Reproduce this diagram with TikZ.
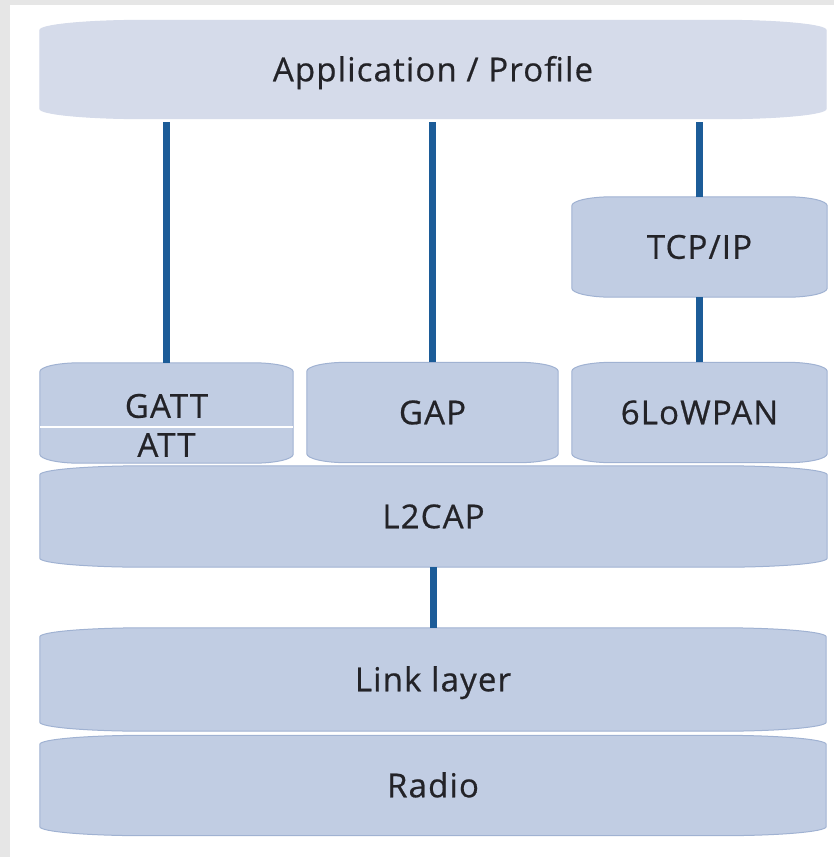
\documentclass[tikz,border=0pt]{standalone}
\usepackage{fontspec}
\setmainfont{Open Sans}
\newfontfamily\stackfont[LetterSpace=3.5, FakeBold=0.6]{Open Sans}
\usetikzlibrary{calc}
\pgfdeclarelayer{frame}
\pgfdeclarelayer{background}
\pgfsetlayers{frame,background,main}

\definecolor{pagegray}{RGB}{230,230,230}
\definecolor{boxfill}{RGB}{193,205,227}
\definecolor{topfill}{RGB}{213,219,234}
\definecolor{boxedge}{RGB}{160,178,210}
\definecolor{linkblue}{RGB}{28,92,152}
\definecolor{txt}{RGB}{35,35,40}

\tikzset{
  x=1pt, y=1pt,
  layer/.style={rectangle, draw=none, fill=none, inner sep=0pt,
    text=txt, font=\stackfont\fontsize{33}{40}\selectfont,
    text height=23.5pt, text depth=0pt},
  shell/.style={fill=boxfill, draw=boxedge, line width=1pt},
  conn/.style={draw=linkblue, line width=6.5pt},
}

% cushion outline around a named node: #1 node, #2 corner x radius, #3 corner y radius, #4 extra style
\newcommand{\cushion}[4]{%
  \path[shell,#4]
    ([yshift=-#3]#1.north west)
      arc[start angle=180, end angle=90, x radius=#2, y radius=#3]
    -- ([xshift=-#2]#1.north east)
      arc[start angle=90, end angle=0, x radius=#2, y radius=#3]
    -- ([yshift=#3]#1.south east)
      arc[start angle=0, end angle=-90, x radius=#2, y radius=#3]
    -- ([xshift=#2]#1.south west)
      arc[start angle=270, end angle=180, x radius=#2, y radius=#3]
    -- cycle;}

\begin{document}
\begin{tikzpicture}
\useasboundingbox (0,0) rectangle (834,-857);

% layers of the stack
\node[layer, minimum width=786, minimum height=98]  (app)    at (433,-69.5)  {Application / Profile};
\node[layer, minimum width=255, minimum height=100] (tcp)    at (699.5,-247) {TCP/IP};
\node[layer, minimum width=253, minimum height=100] (gatt)   at (166.5,-413) {};
\node[layer] (gattlbl) at (166.5,-406) {GATT};
\node[layer] (attlbl)  at (166.5,-445) {ATT};
\node[layer, minimum width=251, minimum height=100] (gap)    at (432.5,-412.5) {GAP};
\node[layer, minimum width=255, minimum height=100] (lowpan) at (699.5,-412.5) {6LoWPAN};
\node[layer, minimum width=787, minimum height=101] (l2cap)  at (433.5,-516.5) {L2CAP};
\node[layer, minimum width=786, minimum height=103] (link)   at (433,-679.5) {Link layer};
\node[layer, minimum width=786, minimum height=100] (radio)  at (433,-785.5) {Radio};

% page frame
\begin{pgfonlayer}{frame}
  \fill[pagegray] (0,0) rectangle (834,-857);
  \fill[white] (10,-5) rectangle (834,-857);
\end{pgfonlayer}

\begin{pgfonlayer}{background}
  \cushion{app}{105}{10}{fill=topfill, draw=topfill}
  \cushion{tcp}{40}{9}{}
  \cushion{gatt}{40}{9}{}
  \cushion{gap}{40}{9}{}
  \cushion{lowpan}{40}{9}{}
  \cushion{l2cap}{105}{9}{}
  \cushion{link}{105}{9}{}
  \cushion{radio}{105}{9}{}
  % split between GATT and ATT
  \draw[white, line width=2.5pt] ($(gatt.west)+(0.5,-14)$) -- ($(gatt.east)+(-0.5,-14)$);
  % connectors
  \draw[conn] (gatt.north) -- ([yshift=-3]gatt.north |- app.south);
  \draw[conn] (gap.north) -- ([yshift=-3]gap.north |- app.south);
  \draw[conn] (tcp.north) -- ([yshift=-3]tcp.north |- app.south);
  \draw[conn] (lowpan.north) -- (tcp.south);
  \draw[conn] (link.north -| l2cap.south) -- (l2cap.south);
\end{pgfonlayer}
\end{tikzpicture}
\end{document}
